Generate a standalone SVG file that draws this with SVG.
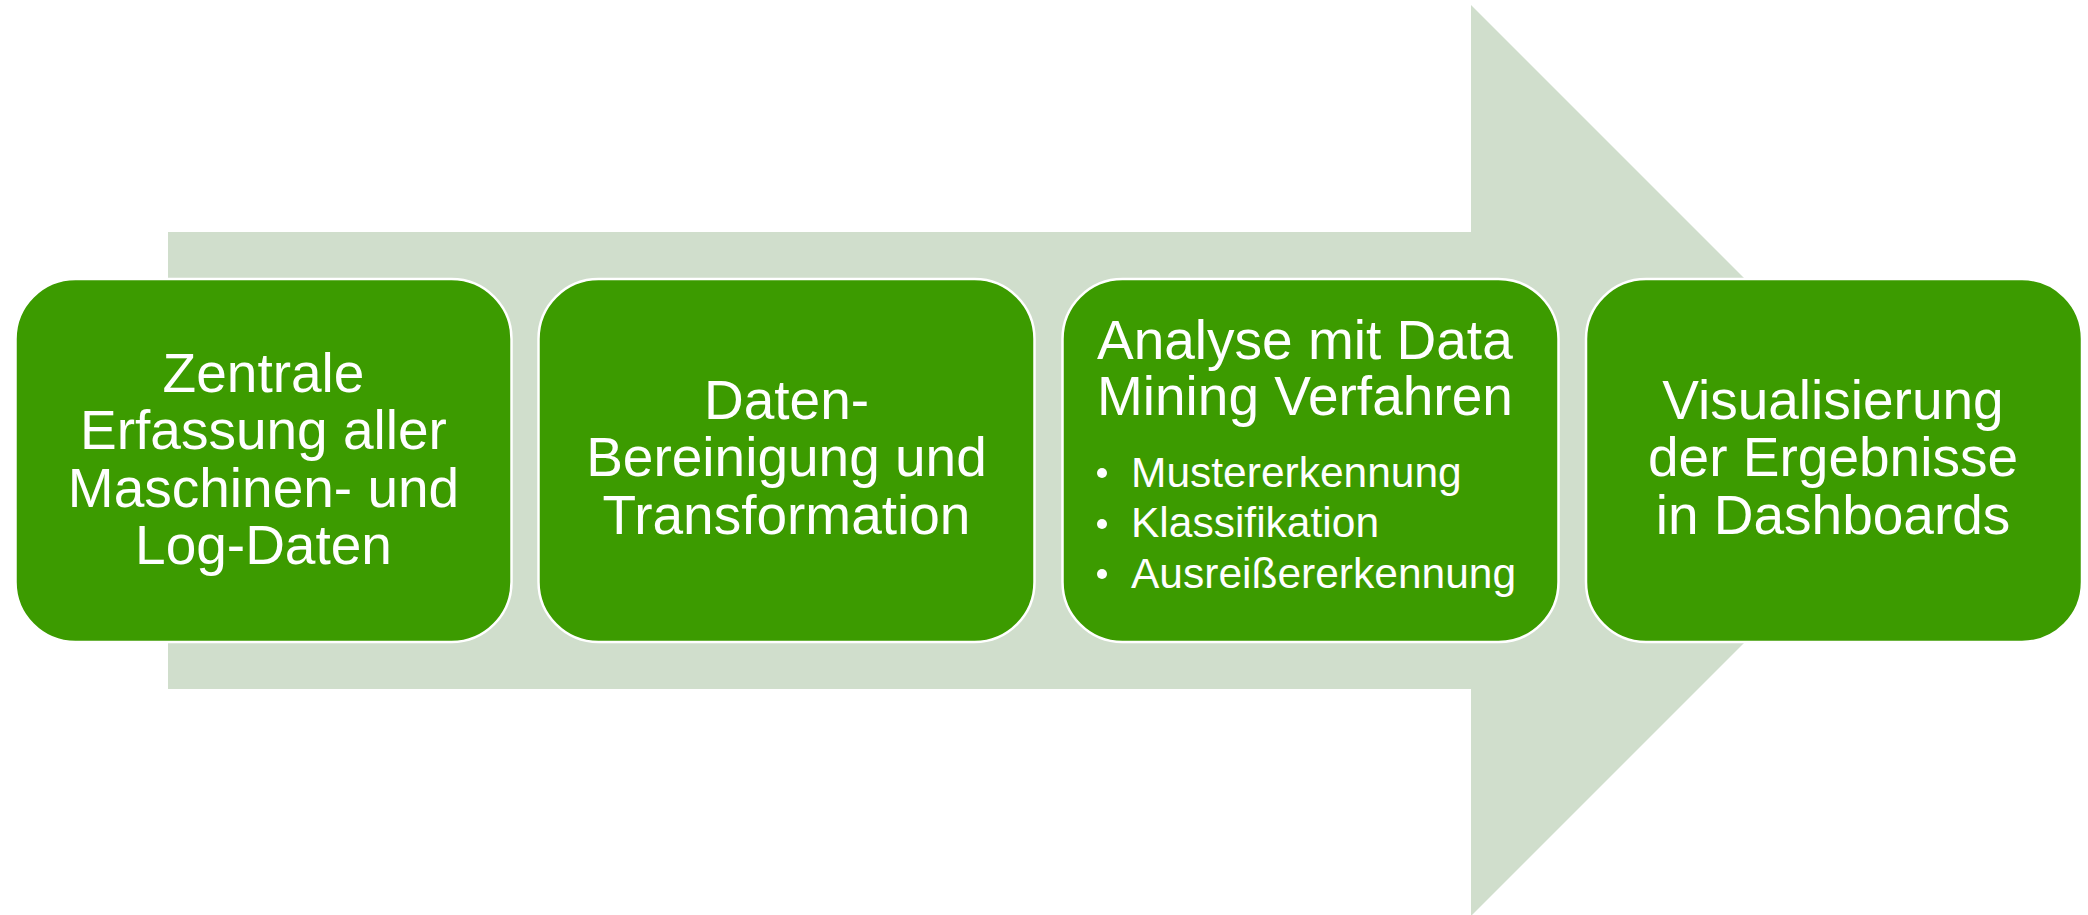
<svg xmlns="http://www.w3.org/2000/svg" width="2088" height="915" viewBox="0 0 2088 915">
<style>
.box{fill:#3C9B00;stroke:#FFFFFF;stroke-width:2.5}
.t{font-family:"Liberation Sans",Arial,sans-serif;font-size:55px;fill:#FFFFFF}
.c{text-anchor:middle}
.b{font-size:42.5px}
</style>
<rect width="2088" height="915" fill="#FFFFFF"/>
<g id="connectors">
<polygon id="arrow" points="168,232 1471,232 1471,5 1926.5,460.5 1471,916 1471,689 168,689" fill="#D0DECC"/>
</g>
<g id="node1">
<rect class="box" x="15.5" y="279" width="496" height="363" rx="60" ry="60"/>
<text class="t c" x="263.5" y="391.5">Zentrale</text>
<text class="t c" x="263.5" y="449">Erfassung aller</text>
<text class="t c" x="263.5" y="506.5">Maschinen- und</text>
<text class="t c" x="263.5" y="564">Log-Daten</text>
</g>
<g id="node2">
<rect class="box" x="538.5" y="279" width="496" height="363" rx="60" ry="60"/>
<text class="t c" x="786.5" y="418.5">Daten-</text>
<text class="t c" x="786.5" y="476">Bereinigung und</text>
<text class="t c" x="786.5" y="533.5">Transformation</text>
</g>
<g id="node3">
<rect class="box" x="1062.5" y="279" width="496" height="363" rx="60" ry="60"/>
<text class="t" x="1097" y="359">Analyse mit Data</text>
<text class="t" x="1097" y="415">Mining Verfahren</text>
<circle cx="1102" cy="473" r="5" fill="#FFFFFF"/>
<circle cx="1102" cy="524" r="5" fill="#FFFFFF"/>
<circle cx="1102" cy="574" r="5" fill="#FFFFFF"/>
<text class="t b" x="1131" y="486.5">Mustererkennung</text>
<text class="t b" x="1131" y="537">Klassifikation</text>
<text class="t b" x="1131" y="587.5">Ausreißererkennung</text>
</g>
<g id="node4">
<rect class="box" x="1586" y="279" width="496" height="363" rx="60" ry="60"/>
<text class="t c" x="1833" y="418.5">Visualisierung</text>
<text class="t c" x="1833" y="476">der Ergebnisse</text>
<text class="t c" x="1833" y="533.5">in Dashboards</text>
</g>
</svg>
